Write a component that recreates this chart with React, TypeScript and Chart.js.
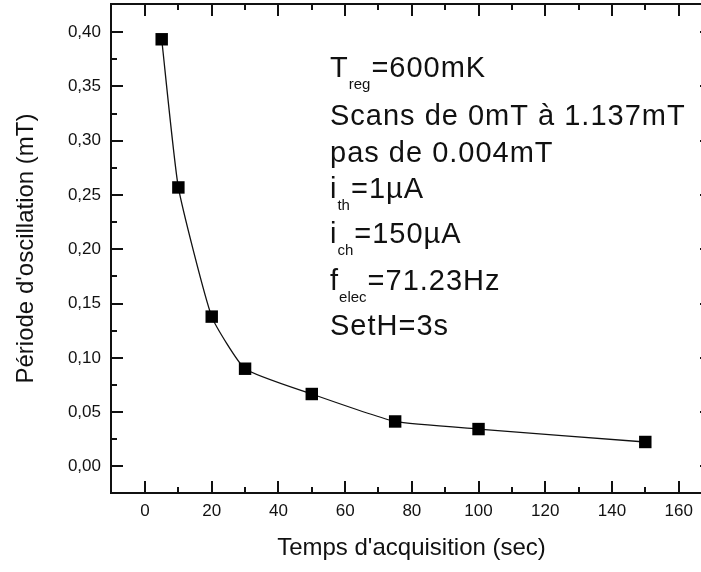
import React, { useEffect, useRef } from 'react';
import { Chart, registerables } from 'chart.js';

Chart.register(...registerables);

// ---- data ----
const acquisitionTimes = [5, 10, 20, 30, 50, 75, 100, 150];
const periods = [0.3935, 0.257, 0.138, 0.09, 0.0667, 0.0414, 0.0344, 0.0225];

const xMajorTicks = [0, 20, 40, 60, 80, 100, 120, 140, 160];
const xMinorTicks = [10, 30, 50, 70, 90, 110, 130, 150];
const yMajorTicks = [0, 0.05, 0.1, 0.15, 0.2, 0.25, 0.3, 0.35, 0.4];
const yMinorTicks = [0.025, 0.075, 0.125, 0.175, 0.225, 0.275, 0.325, 0.375];

const xTitle = "Temps d'acquisition (sec)";
const yTitle = "Période d'oscillation (mT)";

// annotation text: each line is a list of [text, isSubscript]
const annotationLines: [string, boolean][][] = [
  [['T', false], ['reg', true], ['=600mK', false]],
  [['Scans de 0mT à 1.137mT', false]],
  [['pas de 0.004mT', false]],
  [['i', false], ['th', true], ['=1µA', false]],
  [['i', false], ['ch', true], ['=150µA', false]],
  [['f', false], ['elec', true], ['=71.23Hz', false]],
  [['SetH=3s', false]],
];

const FONT = '"Liberation Sans", Arial, sans-serif';
const INK = '#111';

const framePlugin = {
  id: 'framePlugin',
  afterDraw(chart: any) {
    const { ctx, chartArea } = chart;
    const xs = chart.scales.x;
    const ys = chart.scales.y;
    const { left, right, top, bottom } = chartArea;
    ctx.save();
    ctx.strokeStyle = INK;
    ctx.lineWidth = 2;
    ctx.strokeRect(left, top, right - left, bottom - top);
    const major = 12;
    const minor = 6;
    ctx.beginPath();
    const xt = (vals: number[], len: number) => {
      vals.forEach((v) => {
        const px = Math.round(xs.getPixelForValue(v));
        ctx.moveTo(px, bottom);
        ctx.lineTo(px, bottom - len);
        ctx.moveTo(px, top);
        ctx.lineTo(px, top + len);
      });
    };
    const yt = (vals: number[], len: number) => {
      vals.forEach((v) => {
        const py = Math.round(ys.getPixelForValue(v));
        ctx.moveTo(left, py);
        ctx.lineTo(left + len, py);
        ctx.moveTo(right, py);
        ctx.lineTo(right - len, py);
      });
    };
    xt(xMajorTicks, major);
    xt(xMinorTicks, minor);
    yt(yMajorTicks, major);
    yt(yMinorTicks, minor);
    ctx.stroke();

    // annotation block
    const baselines = [77, 125, 162, 198, 243, 290, 335];
    const x0 = 330;
    ctx.fillStyle = INK;
    ctx.textBaseline = 'alphabetic';
    ctx.textAlign = 'left';
    annotationLines.forEach((runs, i) => {
      let x = x0;
      const y = baselines[i];
      runs.forEach(([text, sub]) => {
        ctx.font = sub ? `15px ${FONT}` : `29px ${FONT}`;
        (ctx as any).letterSpacing = sub ? '0px' : '1px';
        ctx.fillText(text, x, sub ? y + 12 : y);
        x += ctx.measureText(text).width + (sub ? 1 : 0);
      });
    });
    (ctx as any).letterSpacing = '0px';
    ctx.restore();
  },
};

export default function App() {
  const ref = useRef<HTMLCanvasElement | null>(null);

  useEffect(() => {
    if (!ref.current) return;
    const chart = new Chart(ref.current, {
      type: 'line',
      data: {
        datasets: [
          {
            data: acquisitionTimes.map((t, i) => ({ x: t, y: periods[i] })),
            borderColor: INK,
            borderWidth: 1.3,
            backgroundColor: '#000',
            pointStyle: 'rect',
            pointRadius: 8.8,
            pointBorderWidth: 0,
            pointBackgroundColor: '#000',
            tension: 0.15,
            fill: false,
          },
        ],
      },
      plugins: [framePlugin],
      options: {
        animation: false,
        responsive: false,
        devicePixelRatio: 1,
        layout: { autoPadding: false, padding: { top: 4, right: 3, left: 0, bottom: 0 } },
        plugins: {
          legend: { display: false },
          tooltip: { enabled: false },
        },
        scales: {
          x: {
            type: 'linear',
            min: -10.2,
            max: 170,
            grid: { display: false, drawTicks: false },
            border: { display: false },
            afterBuildTicks: (s: any) => {
              s.ticks = xMajorTicks.map((v) => ({ value: v }));
            },
            afterFit: (s: any) => {
              s.height = 79;
              s.paddingLeft = 0;
              s.paddingRight = 0;
            },
            ticks: {
              padding: 8,
              color: INK,
              maxRotation: 0,
              autoSkip: false,
              font: { family: FONT, size: 17 },
              callback: (v: any) => String(v),
            },
            title: {
              display: true,
              text: xTitle,
              color: INK,
              font: { family: FONT, size: 24 },
              padding: { top: 0, bottom: 9 },
            },
          },
          y: {
            type: 'linear',
            min: -0.0245,
            max: 0.426,
            grid: { display: false, drawTicks: false },
            border: { display: false },
            afterBuildTicks: (s: any) => {
              s.ticks = yMajorTicks.map((v) => ({ value: v }));
            },
            afterFit: (s: any) => {
              s.width = 111;
              s.paddingTop = 0;
              s.paddingBottom = 0;
            },
            ticks: {
              padding: 10,
              color: INK,
              autoSkip: false,
              font: { family: FONT, size: 17 },
              callback: (v: any) => Number(v).toFixed(2).replace('.', ','),
            },
            title: {
              display: true,
              text: yTitle,
              color: INK,
              font: { family: FONT, size: 24 },
              padding: { top: 12, bottom: 0 },
            },
          },
        },
      },
    } as any);
    return () => chart.destroy();
  }, []);

  return (
    <div
      style={{
        position: 'fixed',
        left: 0,
        top: 0,
        width: 701,
        height: 572,
        overflow: 'hidden',
        background: '#fff',
      }}
    >
      <canvas ref={ref} width={715} height={572} style={{ width: 715, height: 572, display: 'block' }} />
    </div>
  );
}
